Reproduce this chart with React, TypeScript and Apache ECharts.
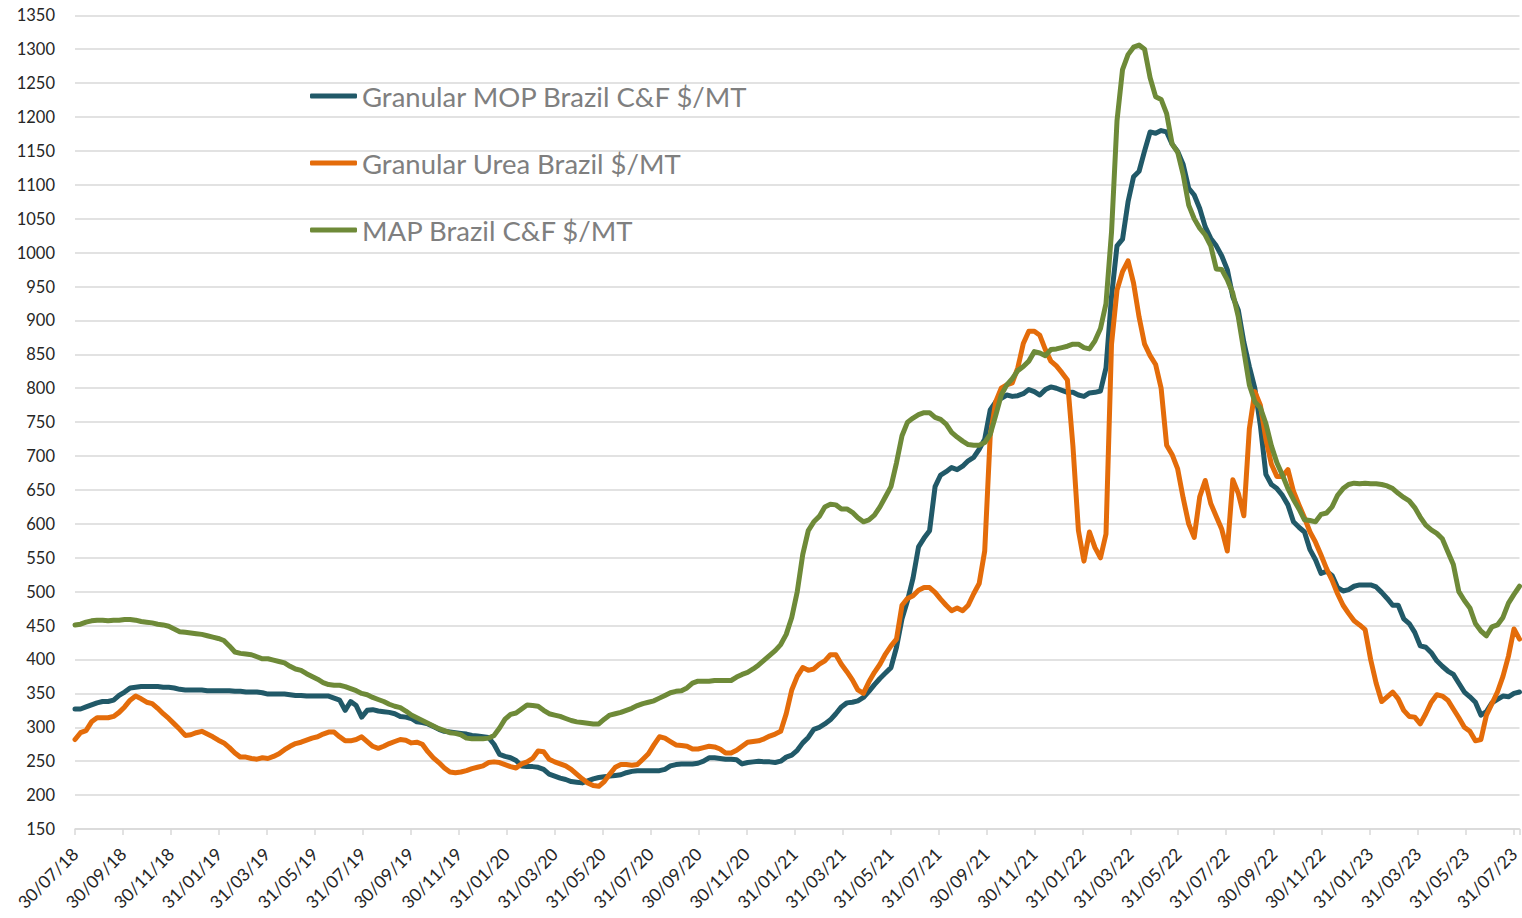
import React, { useEffect, useRef } from "react";
import * as echarts from "echarts";

// Weekly observations starting 30/07/18 (day offset 0), one every 7 days
const START_LABEL = "30/07/18";
const WEEK_COUNT = 263;
const weekDays: number[] = Array.from({ length: WEEK_COUNT }, (_, i) => i * 7);

const tickLabels = [
  "30/07/18", "30/09/18", "30/11/18", "31/01/19", "31/03/19", "31/05/19", "31/07/19",
  "30/09/19", "30/11/19", "31/01/20", "31/03/20", "31/05/20", "31/07/20", "30/09/20",
  "30/11/20", "31/01/21", "31/03/21", "31/05/21", "31/07/21", "30/09/21", "30/11/21",
  "31/01/22", "31/03/22", "31/05/22", "31/07/22", "30/09/22", "30/11/22", "31/01/23",
  "31/03/23", "31/05/23", "31/07/23",
];

const seriesNames = [
  "Granular MOP Brazil C&F $/MT",
  "Granular Urea Brazil $/MT",
  "MAP Brazil C&F $/MT",
];

const mopValues = [
  327, 327, 330, 333, 336, 338, 338, 340, 347, 352,
  358, 359, 360, 360, 360, 360, 359, 359, 358, 356,
  355, 355, 355, 355, 354, 354, 354, 354, 354, 353,
  353, 352, 352, 352, 351, 349, 349, 349, 349, 348,
  347, 347, 346, 346, 346, 346, 346, 343, 340, 325,
  338, 332, 315, 325, 326, 324, 323, 322, 320, 316,
  315, 313, 308, 307, 305, 301, 297, 294, 293, 292,
  291, 290, 288, 287, 286, 285, 275, 260, 257, 255,
  251, 243, 242, 242, 241, 238, 231, 228, 225, 223,
  220, 219, 218, 221, 224, 226, 227, 228, 229, 230,
  233, 235, 236, 236, 236, 236, 236, 238, 243, 245,
  246, 246, 246, 247, 250, 255, 255, 254, 253, 253,
  252, 246, 248, 249, 250, 249, 249, 248, 250, 256,
  259, 266, 277, 285, 297, 300, 305, 311, 320, 330,
  336, 337, 339, 344, 353, 363, 372, 380, 388, 418,
  460, 487, 520, 566, 579, 590, 655, 672, 677, 683,
  680, 685, 693, 698, 710, 725, 768, 780, 785, 790,
  788, 789, 792, 798, 795, 790, 798, 802, 800, 797,
  794, 794, 790, 788, 793, 794, 796, 830, 935, 1010,
  1020, 1075, 1112, 1120, 1150, 1178, 1176, 1180, 1178, 1160,
  1149, 1130, 1095, 1085, 1065, 1038, 1021, 1010, 995, 975,
  935, 915, 868, 832, 800, 745, 673, 658, 652, 642,
  628, 603, 595, 588, 562, 547, 527, 530, 524, 506,
  501, 503, 508, 510, 510, 510, 507, 499, 490, 480,
  480, 460, 453, 440, 420, 418, 410, 398, 390, 383,
  378, 365, 352, 345, 337, 318, 323, 336, 341, 346,
  345, 350, 352,
];

const ureaValues = [
  282, 292, 295, 308, 314, 314, 314, 316, 322, 330,
  340, 346, 342, 337, 335, 328, 320, 313, 305, 297,
  288, 289, 292, 294, 290, 286, 281, 277, 270, 262,
  256, 256, 254, 253, 255, 254, 257, 261, 267, 272,
  276, 278, 281, 284, 286, 290, 293, 293, 286, 280,
  280, 282, 286, 279, 272, 269, 272, 276, 279, 282,
  281, 277, 278, 275, 264, 255, 248, 240, 234, 233,
  234, 236, 239, 241, 243, 248, 249, 248, 245, 242,
  240, 246, 249, 254, 265, 264, 253, 249, 246, 243,
  238, 231, 224, 218, 214, 213, 220, 231, 241, 245,
  245, 244, 245, 253, 261, 274, 286, 284, 279, 274,
  273, 272, 268, 268, 270, 272, 271, 268, 262, 262,
  266, 272, 278, 279, 280, 283, 287, 290, 294, 320,
  355, 375, 388, 384, 386, 393, 398, 407, 407, 393,
  382, 370, 355, 350, 367, 381, 393, 408, 420, 430,
  480, 490, 494, 502, 506, 506, 499, 489, 480, 472,
  476, 472, 480, 497, 512, 560, 730, 780, 800, 805,
  808, 830, 866, 884, 884, 878, 857, 840, 833, 823,
  812, 715, 590, 545, 588, 565, 550, 585, 865, 945,
  972, 988, 955, 905, 865, 848, 835, 800, 716, 702,
  681, 638, 600, 580, 640, 664, 630, 611, 592, 560,
  665, 645, 612, 740, 795, 775, 725, 688, 670, 670,
  680, 648, 628, 609, 588, 573, 554, 534, 517, 497,
  480, 468, 457, 451, 444, 400, 365, 338, 345, 352,
  342, 325, 316, 315, 305, 320, 337, 348, 346, 340,
  327, 314, 300, 294, 280, 282, 318, 335, 352, 375,
  405, 445, 430,
];

const mapValues = [
  451, 452, 455, 457, 458, 458, 457, 458, 458, 459,
  459, 458, 456, 455, 454, 452, 451, 449, 445, 441,
  440, 439, 438, 437, 435, 433, 431, 428, 420, 411,
  409, 408, 407, 404, 401, 401, 399, 397, 395, 390,
  386, 384, 379, 375, 371, 366, 363, 362, 362, 360,
  357, 354, 350, 348, 344, 341, 338, 334, 331, 329,
  324, 318, 314, 310, 306, 302, 298, 295, 292, 291,
  289, 284, 283, 283, 283, 284, 288, 299, 312, 319,
  321, 327, 333, 332, 331, 325, 320, 318, 316, 313,
  310, 308, 307, 306, 305, 305, 312, 318, 320, 322,
  325, 328, 332, 335, 337, 339, 343, 347, 351, 353,
  354, 358, 365, 368, 368, 368, 369, 369, 369, 369,
  374, 378, 381, 386, 392, 399, 406, 413, 422, 437,
  462, 500, 555, 590, 603, 611, 625, 629, 628, 622,
  622, 617, 609, 603, 606, 613, 625, 640, 655, 690,
  730, 750, 756, 761, 764, 764, 757, 754, 747, 735,
  728, 722, 717, 716, 716, 720, 732, 760, 790, 805,
  814, 826, 832, 840, 854, 852, 848, 857, 858, 860,
  862, 865, 865, 860, 858, 870, 888, 925, 1030, 1195,
  1270, 1292, 1303, 1306, 1300, 1258, 1230, 1226, 1205, 1160,
  1148, 1115, 1070, 1050, 1036, 1026, 1010, 976, 975, 960,
  940, 905, 855, 805, 780, 771, 748, 715, 690, 672,
  652, 636, 622, 606, 605, 603, 614, 616, 625, 642,
  652, 658, 660, 659, 660, 659, 659, 658, 656, 652,
  645, 639, 634, 624, 610, 598, 591, 586, 578, 559,
  540, 500, 487, 476, 453, 442, 435, 448, 451, 462,
  483, 496, 508,
];

const seriesColors = ["#215968", "#E46C0A", "#6E8A38"];

const TICK_STEP = 60.9; // days between the two-monthly date ticks
const X_MAX_DAYS = 1834;
const FONT = "Lato, 'Noto Sans', sans-serif";

function pairs(values: number[]) {
  return values.map((v, i) => [weekDays[i], v]);
}

export default function App() {
  const ref = useRef<HTMLDivElement>(null);

  useEffect(() => {
    document.body.style.margin = "0";
    if (!ref.current) return;
    const chart = echarts.init(ref.current, undefined, { renderer: "svg" });
    const allValues = [mopValues, ureaValues, mapValues];
    chart.setOption({
      animation: false,
      backgroundColor: "#ffffff",
      grid: {
        left: 75,
        right: 2.5,
        top: 15.3,
        bottom: 89,
        containLabel: false,
        outerBoundsMode: "none",
      },
      legend: {
        orient: "vertical",
        left: 310,
        top: 81,
        padding: 0,
        itemWidth: 47,
        itemHeight: 5,
        itemGap: 37,
        icon: "roundRect",
        data: seriesNames,
        textStyle: {
          fontFamily: FONT,
          fontSize: 27.5,
          color: "#7F7F7F",
          lineHeight: 30,
        },
      },
      xAxis: {
        type: "value",
        min: 0,
        max: X_MAX_DAYS,
        interval: TICK_STEP,
        splitLine: { show: false },
        axisLine: { show: true, lineStyle: { color: "#D9D9D9", width: 1.5 } },
        axisTick: { show: true, length: 6, lineStyle: { color: "#D9D9D9", width: 1.5 } },
        axisLabel: {
          rotate: 45,
          margin: 22,
          fontFamily: FONT,
          fontSize: 17.5,
          lineHeight: 13,
          color: "#262626",
          formatter: (v: number) => {
            const k = Math.round(v / TICK_STEP);
            if (Math.abs(v - k * TICK_STEP) > 0.5) return "";
            return tickLabels[k] ?? "";
          },
        },
      },
      yAxis: {
        type: "value",
        min: 150,
        max: 1350,
        interval: 50,
        axisLine: { show: false },
        axisTick: { show: false },
        splitLine: { lineStyle: { color: "#D9D9D9", width: 1.5 } },
        axisLabel: {
          margin: 20,
          fontFamily: FONT,
          fontSize: 16.5,
          color: "#262626",
          formatter: (v: number) => String(v),
        },
      },
      series: seriesNames.map((name, s) => ({
        name,
        type: "line",
        data: pairs(allValues[s]),
        showSymbol: false,
        symbol: "none",
        color: seriesColors[s],
        lineStyle: { width: 5, color: seriesColors[s], cap: "round", join: "round" },
        emphasis: { disabled: true },
      })),
    });
    return () => chart.dispose();
  }, []);

  return (
    <div
      ref={ref}
      data-start={START_LABEL}
      style={{ width: 1522, height: 918, position: "relative" }}
    />
  );
}
